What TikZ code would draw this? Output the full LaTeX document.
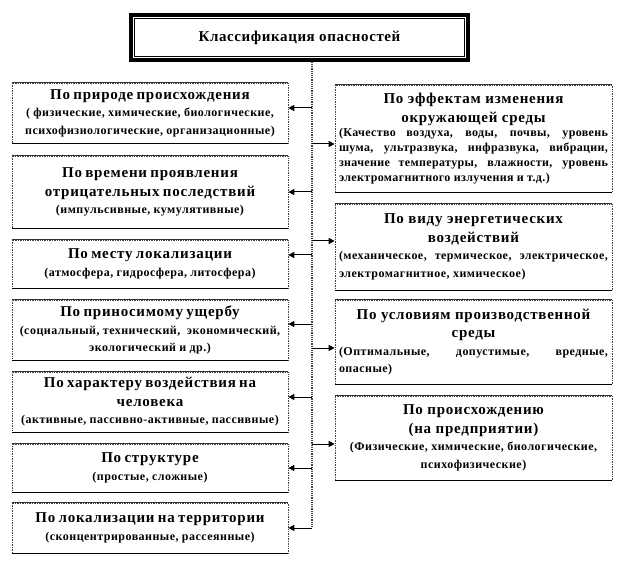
\documentclass[tikz,border=0pt]{standalone}
\usepackage{fontspec}
\setmainfont{Liberation Serif}
\usetikzlibrary{arrows.meta}
\newcommand\myhd{\fontsize{15}{18.5}\selectfont\addfontfeatures{LetterSpace=5}\setlength\baselineskip{18.5pt}}
\newcommand\myds{\fontsize{12}{17}\selectfont\addfontfeatures{LetterSpace=4}\setlength\baselineskip{17.5pt}}
\newcommand\myrs{\fontsize{12}{14.7}\selectfont\addfontfeatures{LetterSpace=3}\setlength\baselineskip{14.7pt}}
\tikzset{
  box/.style={draw=black!75, densely dotted, line width=0.7pt, inner sep=3pt, font=\bfseries},
  lbox/.style={box, minimum width=276pt, text width=270pt, align=center},
  rbox/.style={box, minimum width=277pt, text width=269pt, align=justify},
  topline/.style={draw=black!80, line width=0.5pt},
  botline/.style={draw=black, line width=1.1pt},
  spine/.style={draw=black!75, densely dotted, line width=1.2pt},
  arr/.style={draw=black, line width=1pt, -{Triangle[length=6pt,width=6pt]}},
  titlebox/.style={draw=black, line width=3.5pt, minimum width=337pt, minimum height=45pt, font=\bfseries\fontsize{15}{18}\selectfont\addfontfeatures{LetterSpace=4}}
}
\begin{document}
\begin{tikzpicture}[x=1pt,y=-1pt]
\useasboundingbox (0,0) rectangle (624,564);
% title
\node[titlebox] (T) at (299.5,37.5) {Классификация опасностей};
\draw[line width=1.1pt] ([shift={(5.5pt,-5.5pt)}]T.north west) rectangle ([shift={(-5.5pt,5.5pt)}]T.south east);
% left boxes
\node[lbox, minimum height=60pt] (L1) at (150,113) {{\myhd По природе происхождения\par}{\myds ( физические, химические, биологические,\\ психофизиологические, организационные)\par}};
\node[lbox, minimum height=72pt] (L2) at (150,192) {{\myhd По времени проявления\\ отрицательных последствий\par}{\myds (импульсивные, кумулятивные)\par}};
\node[lbox, minimum height=48pt] (L3) at (150,264) {{\myhd По месту локализации\par}{\myds (атмосфера, гидросфера, литосфера)\par}};
\node[lbox, minimum height=60pt] (L4) at (150,330) {{\myhd По приносимому ущербу\par}{\myds (социальный, технический,\ \ экономический,\\ экологический и др.)\par}};
\node[lbox, minimum height=60pt] (L5) at (150,402) {{\myhd По характеру воздействия на\\ человека\par}{\myds (активные, пассивно-активные, пассивные)\par}};
\node[lbox, minimum height=48pt] (L6) at (150,468) {{\myhd По структуре\par}{\myds (простые, сложные)\par}};
\node[lbox, minimum height=50pt] (L7) at (150,528) {{\myhd По локализации на территории\par}{\myds (сконцентрированные, рассеянные)\par}};
% right boxes
\node[rbox, minimum height=107pt] (R1) at (473.5,138.5) {{\centering\myhd По эффектам изменения\\ окружающей среды\par}{\myrs (Качество воздуха, воды, почвы, уровень\linebreak шума, ультразвука, инфразвука, вибрации,\linebreak значение температуры, влажности, уровень\linebreak электромагнитного излучения и т.д.)\par}};
\node[rbox, minimum height=86pt] (R2) at (473.5,247) {{\centering\myhd По виду энергетических\\ воздействий\par}{\myds (механическое, термическое, электрическое,\linebreak электромагнитное, химическое)\par}};
\node[rbox, minimum height=84pt] (R3) at (473.5,342) {{\centering\myhd По условиям производственной\\ среды\par}{\myds (Оптимальные, допустимые, вредные,\linebreak опасные)\par}};
\node[rbox, minimum height=84pt] (R4) at (473.5,438) {{\centering\myhd По происхождению\\ (на предприятии)\par}{\centering\myds (Физические, химические, биологические,\\ психофизические)\par}};
% solid top and bottom edges
\foreach \b in {L1,L2,L3,L4,L5,L6,L7,R1,R2,R3,R4}{
  \draw[topline] (\b.north west) -- (\b.north east);
  \draw[botline] (\b.south west) -- (\b.south east);
}
% spine
\coordinate (sp) at (312,528);
\draw[spine] (T.south -| sp) -- (sp);
% arrow end points
\coordinate (a1) at ([yshift=5pt]L1.east);
\coordinate (a2) at (L2.east);
\coordinate (a3) at ([yshift=9pt]L3.east);
\coordinate (a4) at ([yshift=6pt]L4.east);
\coordinate (a5) at ([yshift=5pt]L5.east);
\coordinate (a6) at (L6.east);
\coordinate (a7) at (L7.east);
\coordinate (b1) at ([yshift=-5.5pt]R1.west);
\coordinate (b2) at ([yshift=6pt]R2.west);
\coordinate (b3) at ([yshift=-6pt]R3.west);
\coordinate (b4) at ([yshift=-6pt]R4.west);
% arrows
\foreach \c in {a1,a2,a3,a4,a5,a6,a7,b1,b2,b3,b4}{
  \draw[arr] (sp |- \c) -- (\c);
}
\end{tikzpicture}
\end{document}
